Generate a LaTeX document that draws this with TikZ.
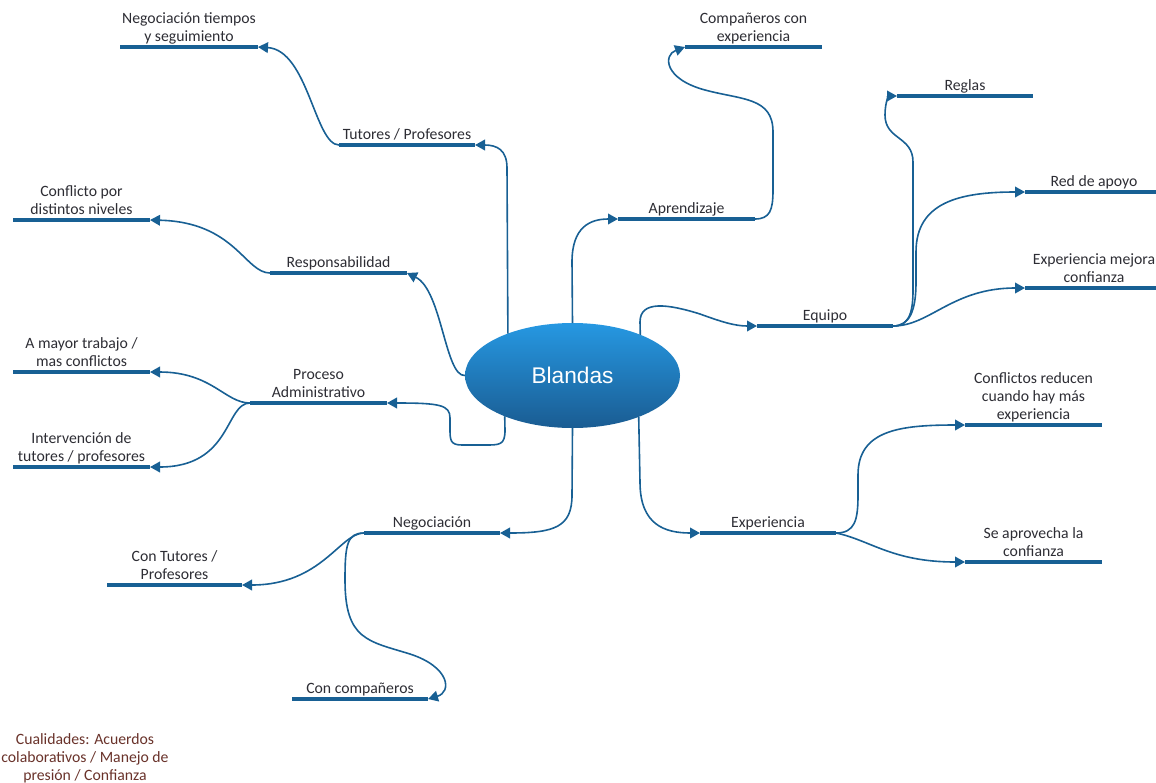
\documentclass[tikz,border=0pt]{standalone}
\usepackage{fontspec}
\setmainfont{Carlito}
\newfontfamily\hubfont{Liberation Sans}
\usetikzlibrary{arrows.meta,shapes.geometric}
\definecolor{lnk}{RGB}{24,96,148}
\definecolor{txt}{RGB}{45,45,52}
\definecolor{note}{RGB}{105,50,42}
\definecolor{hubtop}{RGB}{38,152,226}
\definecolor{hubbot}{RGB}{26,92,146}
\tikzset{
  bar/.style={draw=lnk, line width=3.3pt},
  link/.style={draw=lnk, line width=1.2pt, -{Triangle[length=7.5pt,width=8pt]}},
  lbl/.style={anchor=south, inner sep=0pt, align=center, text=txt,
    font=\fontsize{11.8}{13.5}\selectfont, execute at end node=\strut},
}
% one topic: a thick underline bar with its caption above
\newcommand\branch[5]{%
  \coordinate (#1L) at (#2,#4);
  \coordinate (#1R) at (#3,#4);
  \draw[bar] (#1L) -- (#1R);
  \node[lbl] (#1) at ({(#2+#3)/2},{#4+0.5}) {#5};
}
\begin{document}
\begin{tikzpicture}[x=0.75pt,y=-0.75pt]
\useasboundingbox (0,0) rectangle (1156,782);

% central topic
\node[ellipse, minimum width=161.25pt, minimum height=78.75pt, inner sep=0pt, outer sep=0pt,
      top color=hubtop, bottom color=hubbot, text=white,
      font=\hubfont\fontsize{17}{20}\selectfont] (root) at (572.5,375.5) {Blandas};

% left side
\branch{tut}{339}{475}{145}{Tutores / Profesores}
\branch{neg1}{120}{258}{47}{Negociación tiempos\\y seguimiento}
\branch{resp}{270}{407}{273}{Responsabilidad}
\branch{conf}{13}{150}{220}{Conflicto por\\distintos niveles}
\branch{proc}{250}{387}{403}{Proceso\\Administrativo}
\branch{may}{13}{150}{372}{A mayor trabajo /\\mas conflictos}
\branch{int}{13}{150}{467}{Intervención de\\tutores / profesores}
\branch{nego}{364}{500}{533}{Negociación}
\branch{ctut}{107}{242}{585}{Con Tutores /\\Profesores}
\branch{ccom}{292}{428}{699}{Con compañeros}

% right side
\branch{apr}{618}{755}{219}{Aprendizaje}
\branch{cexp}{685}{822}{47}{Compañeros con\\experiencia}
\branch{equ}{757}{893}{326}{Equipo}
\branch{reg}{897}{1033}{96}{Reglas}
\branch{red}{1025}{1163}{192}{Red de apoyo}
\branch{emc}{1025}{1163}{288}{Experiencia mejora\\confianza}
\branch{exp}{700}{836}{533}{Experiencia}
\branch{cred}{965}{1102}{425}{Conflictos reducen\\cuando hay más\\experiencia}
\branch{apro}{965}{1102}{562}{Se aprovecha la\\confianza}

% connectors from the central topic
\draw[link] (root.147.6) -- (507,168) .. controls (507,150) and (497,145) .. (tutR);
\draw[link] (root.west) .. controls (445,377) and (442,290) .. (respR);
\draw[link] (root.211.2) -- (505,430) .. controls (505,445) and (500,445) .. (485,445)
  -- (462,445) .. controls (450,445) and (450,440) .. (450,428) -- (450,418)
  .. controls (450,405) and (440,403) .. (procR);
\draw[link] (root.south) -- (572,495) .. controls (572,527) and (555,533) .. (negoR);
\draw[link] (root.north) -- (572,262) .. controls (572,227) and (590,219) .. (aprL);
\draw[link] (root.31.2) -- (640,322) .. controls (640,300) and (668,304) .. (700,314)
  .. controls (722,322) and (735,326) .. (equL);
\draw[link] (root.328.8) -- (640,482) .. controls (640,525) and (665,533) .. (expL);

% second-level connectors
\draw[link] (tutL) .. controls (315,145) and (308,50) .. (neg1R);
\draw[link] (respL) .. controls (245,273) and (235,222) .. (confR);
\draw[link] (procL) .. controls (225,403) and (212,372) .. (mayR);
\draw[link] (procL) .. controls (225,403) and (232,467) .. (intR);
\draw[link] (negoL) .. controls (340,533) and (322,585) .. (ctutR);
\draw[link] (negoL) .. controls (347,533) and (345,545) .. (345,580)
  .. controls (345,640) and (368,641) .. (410,654)
  .. controls (450,667) and (452,692) .. (ccomR);
\draw[link] (aprR) .. controls (770,219) and (773,210) .. (773,190) -- (773,132)
  .. controls (773,97) and (742,100) .. (705,90)
  .. controls (664,79) and (663,55) .. (cexpL);
\draw[link] (equR) .. controls (908,326) and (913,315) .. (913,290) -- (913,162)
  .. controls (913,136) and (885,140) .. (885,115)
  .. controls (885,102) and (889,96) .. (regL);
\draw[link] (equR) .. controls (910,326) and (916,310) .. (916,282) -- (916,252)
  .. controls (916,202) and (960,192) .. (redL);
\draw[link] (equR) .. controls (930,326) and (952,288) .. (emcL);
\draw[link] (expR) .. controls (855,533) and (858,520) .. (858,495) -- (858,475)
  .. controls (858,430) and (900,425) .. (credL);
\draw[link] (expR) .. controls (870,540) and (892,562) .. (aproL);

% note in the lower left corner
\node[align=center, text=note, inner sep=0pt, font=\fontsize{11.8}{13.5}\selectfont] (qual) at (85,758)
  {Cualidades: Acuerdos\\colaborativos / Manejo de\\presión / Confianza};
\end{tikzpicture}
\end{document}
